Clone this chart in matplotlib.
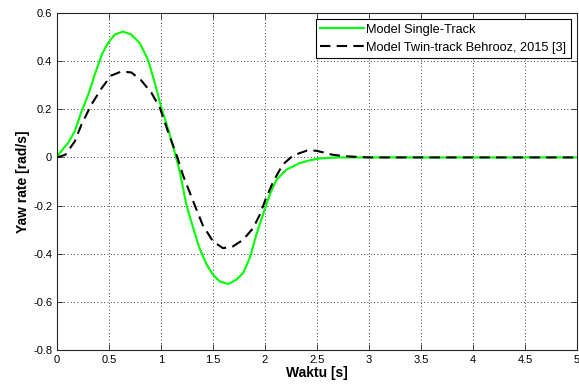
import numpy as np
import matplotlib
matplotlib.use("Agg")
import matplotlib.pyplot as plt

plt.rcParams.update({
    "font.family": ["Liberation Sans", "DejaVu Sans"],
    "font.size": 8,
    "xtick.direction": "in",
    "ytick.direction": "in",
})

# values
t_single = [0, 0.01, 0.106, 0.17, 0.235, 0.30, 0.36, 0.43, 0.49, 0.555, 0.635,
            0.715, 0.795, 0.875, 0.94, 1.004, 1.067, 1.13, 1.18, 1.244, 1.31,
            1.37, 1.44, 1.5, 1.564, 1.645, 1.725, 1.79, 1.853, 1.917, 1.98,
            2.045, 2.11, 2.206, 2.33, 2.43, 2.53, 2.7, 5.0]
r_single = [0, 0.01, 0.06, 0.108, 0.19, 0.26, 0.34, 0.427, 0.475, 0.51, 0.523,
            0.51, 0.475, 0.406, 0.31, 0.205, 0.12, 0.025, -0.058, -0.197,
            -0.294, -0.377, -0.446, -0.487, -0.515, -0.526, -0.508, -0.48,
            -0.418, -0.321, -0.238, -0.155, -0.093, -0.051, -0.024, -0.012,
            -0.004, 0, 0]

t_twin = [0, 0.08, 0.17, 0.235, 0.33, 0.43, 0.52, 0.62, 0.715, 0.81, 0.91,
          0.99, 1.067, 1.16, 1.21, 1.31, 1.40, 1.5, 1.596, 1.69, 1.79, 1.885,
          1.95, 2.01, 2.08, 2.17, 2.27, 2.40, 2.49, 2.57, 2.65, 2.75, 2.85,
          3.0, 5.0]
r_twin = [0, 0.011, 0.066, 0.136, 0.219, 0.288, 0.34, 0.357, 0.353, 0.32,
          0.267, 0.205, 0.108, -0.003, -0.072, -0.183, -0.28, -0.349, -0.377,
          -0.37, -0.342, -0.294, -0.238, -0.169, -0.1, -0.03, 0.008, 0.028,
          0.028, 0.02, 0.011, 0.006, 0.003, 0, 0]

xticks = np.arange(0, 5.01, 0.5)
yticks = np.arange(-0.8, 0.61, 0.2)
xticklabels = ["0", "0.5", "1", "1.5", "2", "2.5", "3", "3.5", "4", "4.5", "5"]
yticklabels = ["-0.8", "-0.6", "-0.4", "-0.2", "0", "0.2", "0.4", "0.6"]

fig = plt.figure(figsize=(5.79, 3.89), dpi=100)
ax = fig.add_axes([57 / 579, 39 / 389, 520 / 579, 337 / 389])

ax.plot(t_single, r_single, color="#00ff00", linewidth=1.5, label="Model Single-Track")
ax.plot(t_twin, r_twin, color="black", linewidth=1.5, linestyle=(0, (5, 3)),
        label="Model Twin-track Behrooz, 2015 [3]")

ax.set_xlim(0, 5)
ax.set_ylim(-0.8, 0.6)
ax.set_xticks(xticks)
ax.set_xticklabels(xticklabels)
ax.set_yticks(yticks)
ax.set_yticklabels(yticklabels)
ax.tick_params(top=True, right=True, length=4, width=0.6, colors="#262626", labelcolor="black")
for s in ax.spines.values():
    s.set_color("#262626")
    s.set_linewidth(0.8)
ax.grid(True, color="black", linestyle=(0, (1, 3)), linewidth=0.6)

ax.set_xlabel("Waktu [s]", fontsize=10, fontweight="bold", labelpad=1)
ax.set_ylabel("Yaw rate [rad/s]", fontsize=10, fontweight="bold", labelpad=2)

leg = ax.legend(loc="upper right", fancybox=False, framealpha=1, edgecolor="black",
                borderaxespad=0.5, handlelength=3.4, handletextpad=0.2, borderpad=0.35,
                labelspacing=0.45, fontsize=9.2)
leg.get_frame().set_linewidth(0.8)

fig.savefig("out.png", dpi=100)
